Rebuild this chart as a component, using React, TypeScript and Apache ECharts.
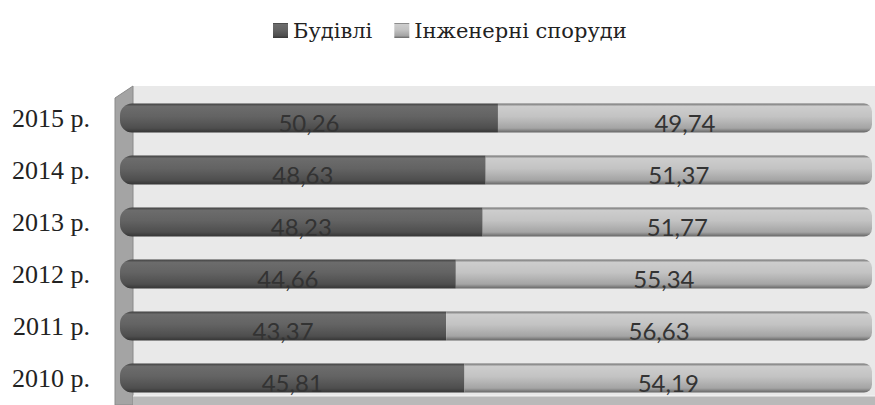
import React, { useEffect, useRef } from "react";
import * as echarts from "echarts";

const categories = ["2010 р.", "2011 р.", "2012 р.", "2013 р.", "2014 р.", "2015 р."];
const buildings = [45.81, 43.37, 44.66, 48.23, 48.63, 50.26];
const engineering = [54.19, 56.63, 55.34, 51.77, 51.37, 49.74];
const seriesNames = ["Будівлі", "Інженерні споруди"];

const grad = (stops: [number, string][]) =>
  new echarts.graphic.LinearGradient(0, 0, 0, 1, stops.map(([offset, color]) => ({ offset, color })));

const SERIF = "'Liberation Serif', 'DejaVu Serif', serif";
const LEGEND_SERIF = "DejaVu Serif";

export default function App() {
  const ref = useRef<HTMLDivElement>(null);
  useEffect(() => {
    if (!ref.current) return;
    const chart = echarts.init(ref.current, undefined, { renderer: "svg" });
    const fmt = (p: any) => "{v|" + p.value.toFixed(2).replace(".", ",") + "}";
    const labelStyle = {
      show: true,
      position: "inside",
      formatter: fmt,
      offset: [0, 4],
      rich: { v: { fontFamily: "Lato", fontSize: 24, color: "#333" } },
    };
    chart.setOption({
      animation: false,
      backgroundColor: "#fff",
      legend: {
        top: 15,
        left: 268,
        itemWidth: 15,
        itemHeight: 15,
        itemGap: 22,
        icon: "rect",
        textStyle: { fontFamily: LEGEND_SERIF, fontSize: 21, color: "#222" },
        data: seriesNames,
      },
      graphic: [
        { type: "rect", z: -10, shape: { x: 133, y: 86, width: 742, height: 320 }, style: { fill: "#e9e9e9" } },
        { type: "polygon", z: -9, shape: { points: [[115, 98], [133, 86], [133, 405], [115, 405]] }, style: { fill: "#a4a4a4", stroke: "#8a8a8a", lineWidth: 1 } },
        { type: "rect", z: -9, shape: { x: 133, y: 396, width: 742, height: 9 }, style: { fill: "#b9b9b9" } },
        { type: "line", z: -8, shape: { x1: 133, y1: 396, x2: 875, y2: 396 }, style: { stroke: "#f4f4f4", lineWidth: 1 } },
      ],
      grid: { left: 120, right: 3, top: 92, bottom: 1 },
      xAxis: { type: "value", min: 0, max: 100, show: false },
      yAxis: {
        type: "category",
        data: categories,
        axisLine: { show: false },
        axisTick: { show: false },
        axisLabel: {
          margin: 30,
          fontFamily: SERIF,
          fontSize: 26,
          color: "#222",
        },
      },
      color: ["#5f5f5f", "#c2c2c2"],
      series: [
        {
          name: seriesNames[0],
          type: "bar",
          stack: "total",
          barWidth: 29,
          data: buildings,
          itemStyle: {
            color: grad([
              [0, "#3f3f3f"],
              [0.1, "#6c6c6c"],
              [0.45, "#636363"],
              [0.85, "#4e4e4e"],
              [1, "#353535"],
            ]),
            borderRadius: [12, 0, 0, 12],
          },
          label: labelStyle,
        },
        {
          name: seriesNames[1],
          type: "bar",
          stack: "total",
          barWidth: 29,
          data: engineering,
          itemStyle: {
            color: grad([
              [0, "#6e6e6e"],
              [0.1, "#cdcdcd"],
              [0.45, "#c3c3c3"],
              [0.85, "#a4a4a4"],
              [1, "#666666"],
            ]),
            borderRadius: [0, 8, 8, 0],
          },
          label: labelStyle,
        },
      ],
    });
    return () => chart.dispose();
  }, []);
  return <div ref={ref} style={{ width: 875, height: 405, position: "absolute", left: 0, top: 0 }} />;
}
